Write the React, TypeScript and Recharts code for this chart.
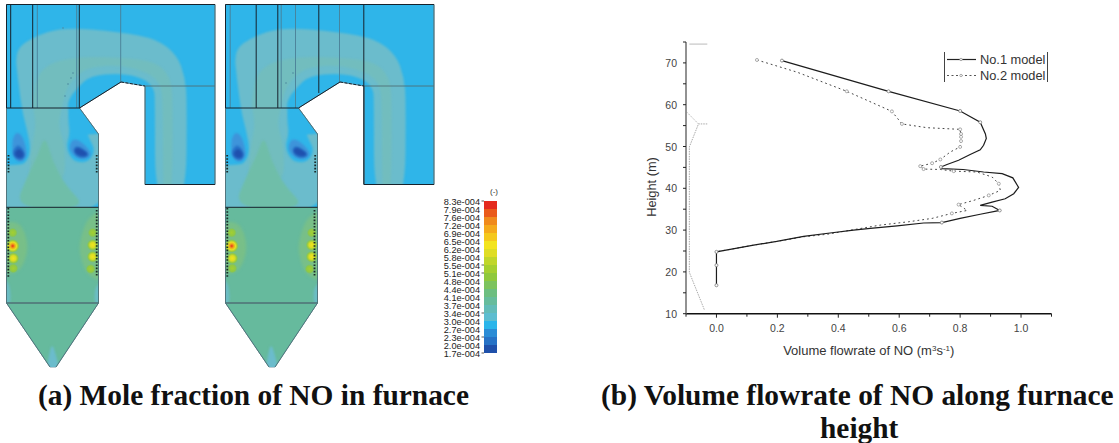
import React from "react";
import { ScatterChart, Scatter, LineChart, Line, XAxis, YAxis, ReferenceArea, Legend } from "recharts";

type P = [number, number];

/* ---------- Furnace contour map, in picture-local furnace units ---------- */
const furnaceOutline: P[] = [[6.5,4.5],[215,4.5],[215,184.5],[145,184.5],[145,86],[121,82],[79.5,108],[98.5,134],[98.5,303],[56,367],[50,367],[6.5,303]];
const tealBand: P[] = [[15,50],[33,37],[63,27],[120,32],[157,39],[177,55],[185,77],[187,100],[186,205],[155,205],[155,100],[154,88],[143,78],[120,73],[90,76],[78,87],[68,100],[68,113],[73,128],[88,134],[110,134],[110,215],[-5,215],[-5,165],[18,165],[26,163],[31,150],[27,130],[22,110],[18,80]];
const midBand: P[] = [[33,100],[38,70],[67,57],[120,57],[157,62],[170,77],[173,97],[172,205],[163,205],[163,100],[160,83],[147,72],[120,65],[90,67],[77,75],[67,87],[62,107],[58,125],[65,145],[65,185],[28,185],[32,145],[36,125],[33,107]];
const lowerBody: P[] = [[6,207],[99,207],[99,304],[56,368],[50,368],[6,304]];
const greenWedge: P[] = [[45,135],[52,160],[65,185],[88,209],[14,209],[28,175],[38,155]];
const cornerTealLeft: P[] = [[4,278],[10,285],[11,304],[4,304]];
const cornerTealRight: P[] = [[101,282],[95,287],[94,304],[101,304]];
const hopperTeal: P[] = [[52,343],[56,355],[60,372],[46,372],[49,355]];
const haloLeft: P[] = [[2,222],[18,222],[25,232],[28,247],[25,262],[17,273],[2,275]];
const haloRight: P[] = [[104,208],[88,218],[82,233],[79,248],[82,262],[87,275],[104,283]];
const cyanRightLobe: P[] = [[70,109],[68,120],[70,133],[66,147],[72,160],[82,163],[90,160],[95,150],[90,140],[87,133],[99,134],[80,108]];
const lobeLeftOuter: P[] = [[12,140],[16,132],[22,135],[26,147],[27,157],[20,163],[13,157]];
const lobeLeftInner: P[] = [[13,150],[18,144],[24,150],[25,157],[20,161],[13,156]];
const lobeLeftCore: P[] = [[14,153],[19,148],[24,153],[23,158],[17,158]];
const lobeRightOuter: P[] = [[69,147],[73,138],[82,142],[92,153],[88,159],[78,159],[71,153]];
const lobeRightInner: P[] = [[73,150],[77,145],[90,154],[85,158],[77,157]];
const lobeRightCore: P[] = [[74,150],[78,147],[89,154],[83,157],[76,154]];

const heatSpots = [
  { x: 12.7, y: 232.7, level: "mild" }, { x: 12.7, y: 246, level: "hot" },
  { x: 13.3, y: 258.3, level: "warm" }, { x: 13.3, y: 268.3, level: "mild" },
  { x: 92.7, y: 232.7, level: "mild" }, { x: 92.7, y: 245, level: "warm" },
  { x: 92.7, y: 256.7, level: "warm" }, { x: 90.7, y: 269, level: "mild" },
];

const commonBlack: P[][] = [
  [[6.5,4.5],[215,4.5]], [[6.5,4.5],[6.5,108]], [[6.5,108],[79.5,108]], [[79.5,108],[121,82]],
  [[6.5,207.3],[98.5,207.3]], [[145,184.5],[215,184.5]],
];
const commonGrey: P[][] = [
  [[145,86],[215,86]], [[79.5,108],[98.5,134]], [[98.5,134],[98.5,303]], [[6.5,108],[6.5,303]],
  [[6.5,303],[98.5,303]], [[215,4.5],[215,184.5]], [[6.5,303],[50,367]], [[98.5,303],[56,367]], [[145,86],[145,184.5]],
];
const dashedRoof: P[] = [[121,82],[145,86]];

const panelOneBlack: P[][] = [[[10.7,4.5],[10.7,108]], [[32.7,4.5],[32.7,108]], [[79.3,4.5],[79.3,108]]];
const panelOneGrey: P[][] = [[[37.3,4.5],[37.3,108]], [[76.7,4.5],[76.7,108]], [[120.7,4.5],[120.7,82]]];
const panelOneSpecks: P[] = [[63,28],[73,73],[71,78],[68,84],[65,96]];
const panelOneBurners: P[][] = [[[8.5,155],[8.5,173]], [[96.7,155],[96.7,173]], [[8.3,208],[8.3,278]], [[96.7,210],[96.7,277]]];

const panelTwoBlack: P[][] = [[[37.2,4.5],[37.2,108]], [[58.8,4.5],[58.8,108]], [[99.8,4.5],[99.8,93]], [[144.8,4.5],[144.8,184.5]]];
const panelTwoGrey: P[][] = [[[11.2,4.5],[11.2,108]], [[62.2,4.5],[62.2,108]], [[76.5,4.5],[76.5,108]], [[120.5,4.5],[120.5,82]]];
const panelTwoSpecks: P[] = [[74,73],[67,83]];
const panelTwoBurners: P[][] = [[[8.2,155],[8.2,173]], [[96.2,155],[96.2,173]], [[8.3,208],[8.3,278]], [[95.5,210],[95.5,277]]];

/* ---------- Colour scale ---------- */
const scaleLabels = ["8.3e-004","7.9e-004","7.6e-004","7.2e-004","6.9e-004","6.5e-004","6.2e-004","5.8e-004","5.5e-004","5.1e-004","4.8e-004","4.4e-004","4.1e-004","3.7e-004","3.4e-004","3.0e-004","2.7e-004","2.3e-004","2.0e-004","1.7e-004"];
const scaleColors = ["#e42a1e","#ea5a1a","#f08a1c","#f5aa1c","#f5c81c","#f3e41e","#dfdd24","#c0d62a","#a5cf30","#8fc83c","#7cc35e","#6cbe80","#66bc9c","#62bcb8","#5cbdd0","#2ab5ea","#2a8cd6","#2672c6","#1f50aa"];
const scaleMarks = [0, 8, 9, 14, 17, 19];

/* ---------- Line chart ---------- */
const modelOne = [
  [0.215,70.55],[0.565,63.2],[0.8,58.5],[0.866,55.8],[0.883,53],[0.886,51.9],[0.877,50.3],[0.866,49.2],[0.833,48.1],[0.795,46.7],[0.757,45.7],[0.737,45.1],[0.74,44.7],[0.81,44.5],[0.877,43.9],[0.938,43.5],[0.973,42.5],[0.992,40.2],[0.976,38.7],[0.948,37.5],[0.905,36.7],[0.866,35.9],[0.905,35.7],[0.93,34.7],[0.866,33.8],[0.8,32.8],[0.74,31.8],[0.68,31.7],[0.593,31],[0.505,30.4],[0.45,30],[0.373,29.3],[0.286,28.5],[0.198,27.3],[0.122,26.4],[0.045,25.4],[0,24.8],[0,21.6],[0,16.8],
].map(([x, y]) => ({ x, y }));
const modelTwo = [
  [0.133,70.7],[0.264,67.8],[0.428,63.2],[0.576,58.4],[0.609,55.4],[0.691,54.5],[0.8,54.1],[0.803,52.3],[0.8,49.9],[0.768,48.7],[0.735,46.9],[0.708,46],[0.669,45.3],[0.68,44.6],[0.735,44.5],[0.779,44.1],[0.855,43.9],[0.905,42.7],[0.927,41.1],[0.932,39.5],[0.894,38.3],[0.844,37.1],[0.795,36.1],[0.823,34.7],[0.773,34],[0.708,32.8],[0.631,32],[0.538,31.2],[0.45,30.1],[0.363,29],[0.286,28.4],[0.198,27.3],[0.122,26.4],[0.045,25.4],[0,24.8],
].map(([x, y]) => ({ x, y }));
const markersOne = [[0.215,70.55],[0.565,63.2],[0.8,58.5],[0.866,55.8],[0.737,45.1],[0.93,34.7],[0.74,31.8],[0,24.8],[0,21.6],[0,16.8]].map(([x, y]) => ({ x, y }));
const markersTwo = [[0.133,70.7],[0.428,63.2],[0.576,58.4],[0.609,55.4],[0.8,54.1],[0.803,53],[0.803,52.3],[0.803,51.3],[0.8,49.9],[0.735,46.9],[0.708,46],[0.669,45.3],[0.68,44.6],[0.779,44.1],[0.927,41.1],[0.894,38.3],[0.795,36.1],[0.773,34]].map(([x, y]) => ({ x, y }));
const ghostTraceLower = [[-0.04,11],[-0.089,19.9],[-0.089,49.9],[-0.059,55.4],[-0.03,55.4]].map(([x, y]) => ({ x, y }));
const ghostTraceUpper = [[-0.059,55.4],[-0.097,58.2]].map(([x, y]) => ({ x, y }));
const ghostTraceTop = [[-0.089,74.5],[-0.03,74.5]].map(([x, y]) => ({ x, y }));

const xTicks = [-0.1,0,0.1,0.2,0.3,0.4,0.5,0.6,0.7,0.8,0.9,1.0,1.1];
const yTicks = [10,15,20,25,30,35,40,45,50,55,60,65,70,75];
const seriesOneName = "No.1 model";
const seriesTwoName = "No.2 model";

/* ---------- Helpers ---------- */
const toPoints = (a: P[]) => a.map(([x, y]) => ({ x, y }));
const straight = (pts: any[]) => pts.map((p, i) => `${i ? "L" : "M"}${p.x} ${p.y}`).join(" ") + " Z";
const rounded = (pts: any[]) => {
  const n = pts.length;
  const mid = (a: any, b: any) => ({ x: (a.x + b.x) / 2, y: (a.y + b.y) / 2 });
  const s = mid(pts[n - 1], pts[0]);
  let d = `M${s.x} ${s.y}`;
  pts.forEach((p, i) => {
    const m = mid(p, pts[(i + 1) % n]);
    d += ` Q${p.x} ${p.y} ${m.x} ${m.y}`;
  });
  return d + " Z";
};
const noDot = () => null;

function region(pts: P[], fill: string, clipId: string, key: string, smooth = true, blur = 0.8) {
  return (
    <Scatter
      key={key}
      data={toPoints(pts)}
      dataKey="y"
      shape={noDot as any}
      isAnimationActive={false}
      line={((p: any) => (
        <g clipPath={`url(#${clipId})`}>
          <path d={smooth ? rounded(p.points) : straight(p.points)} fill={fill} stroke="none" style={blur ? { filter: `blur(${blur}px)` } : undefined} />
        </g>
      )) as any}
    />
  );
}
function stroke(pts: P[], color: string, width: number, key: string, dash?: string) {
  return (
    <Scatter
      key={key}
      data={toPoints(pts)}
      dataKey="y"
      shape={noDot as any}
      isAnimationActive={false}
      line={((p: any) => (
        <path d={p.points.map((q: any, i: number) => `${i ? "L" : "M"}${q.x} ${q.y}`).join(" ")} fill="none" stroke={color} strokeWidth={width} strokeDasharray={dash} />
      )) as any}
    />
  );
}

const HEAT: Record<string, { c: string; r: number }> = {
  hot: { c: "hot", r: 7 },
  warm: { c: "warm", r: 6 },
  mild: { c: "mild", r: 5 },
};

function Furnace({ id, left, black, grey, specks, burners }: { id: string; left: number; black: P[][]; grey: P[][]; specks: P[]; burners: P[][] }) {
  const clip = `clip-${id}`;
  return (
    <div style={{ position: "absolute", left, top: 0 }}>
      <ScatterChart width={218} height={380} margin={{ top: 0, right: 0, bottom: 0, left: 0 }}>
        <XAxis type="number" dataKey="x" domain={[0, 218]} hide allowDataOverflow />
        <YAxis type="number" dataKey="y" domain={[0, 380]} reversed hide allowDataOverflow />
        <Scatter
          data={toPoints(furnaceOutline)}
          dataKey="y"
          shape={noDot as any}
          isAnimationActive={false}
          line={((p: any) => (
            <g>
              <defs>
                <clipPath id={clip}><path d={straight(p.points)} /></clipPath>
                <radialGradient id={`${id}-hot`}>
                  <stop offset="0%" stopColor="#e8301c" /><stop offset="30%" stopColor="#f0a41c" /><stop offset="55%" stopColor="#e6e020" /><stop offset="80%" stopColor="#a0cc34" stopOpacity={0.8} /><stop offset="100%" stopColor="#80c050" stopOpacity={0} />
                </radialGradient>
                <radialGradient id={`${id}-warm`}>
                  <stop offset="0%" stopColor="#f0e41e" /><stop offset="45%" stopColor="#d8dc24" /><stop offset="75%" stopColor="#9ccc34" stopOpacity={0.8} /><stop offset="100%" stopColor="#80c050" stopOpacity={0} />
                </radialGradient>
                <radialGradient id={`${id}-mild`}>
                  <stop offset="0%" stopColor="#a4cf30" /><stop offset="65%" stopColor="#94ca3a" stopOpacity={0.85} /><stop offset="100%" stopColor="#80c050" stopOpacity={0} />
                </radialGradient>
              </defs>
              <path d={straight(p.points)} fill="#2fb5e9" stroke="#5a8090" strokeWidth={0.8} />
            </g>
          )) as any}
        />
        {region(tealBand, "#6bbccc", clip, "teal")}
        {region(midBand, "#72bdbe", clip, "mid", true, 1.2)}
        {region(greenWedge, "#6fbea9", clip, "wedge", true, 1.2)}
        {region(lowerBody, "#66ba9d", clip, "green", false, 0)}
        {region(cornerTealLeft, "#6bbcc4", clip, "cl", true, 1.2)}
        {region(cornerTealRight, "#6bbcc4", clip, "cr", true, 1.2)}
        {region(hopperTeal, "#6bbccc", clip, "ht", true, 1.2)}
        {region(haloLeft, "#78bf88", clip, "hl", true, 1.5)}
        {region(haloRight, "#78bf88", clip, "hr", true, 1.5)}
        {region(cyanRightLobe, "#2fb5e9", clip, "crl")}
        {region(lobeLeftOuter, "#3e94da", clip, "l1")}
        {region(lobeLeftInner, "#2672c8", clip, "l2")}
        {region(lobeLeftCore, "#1f50ae", clip, "l3")}
        {region(lobeRightOuter, "#3e94da", clip, "r1")}
        {region(lobeRightInner, "#2672c8", clip, "r2")}
        {region(lobeRightCore, "#1f50ae", clip, "r3")}
        <Scatter
          data={heatSpots}
          dataKey="y"
          isAnimationActive={false}
          shape={((p: any) => {
            const h = HEAT[p.payload.level];
            return <circle cx={p.cx} cy={p.cy} r={h.r} fill={`url(#${id}-${h.c})`} />;
          }) as any}
        />
        <Scatter
          data={toPoints(specks)}
          dataKey="y"
          isAnimationActive={false}
          shape={((p: any) => <circle cx={p.cx} cy={p.cy} r={0.8} fill="#4d8aa0" />) as any}
        />
        {grey.map((l, i) => stroke(l, "#4a7f96", 0.9, `pg${i}`))}
        {commonGrey.map((l, i) => stroke(l, "#4f6f76", i === 4 ? 1.6 : 0.9, `cg${i}`))}
        {black.map((l, i) => stroke(l, "#16222c", 1, `pb${i}`))}
        {commonBlack.map((l, i) => stroke(l, "#16222c", 1, `cb${i}`))}
        {stroke(dashedRoof, "#16222c", 1, "roof", "3 1.5")}
        {burners.map((l, i) => stroke(l, "#1a2a28", 1.8, `bu${i}`, "1.6 1.6"))}
      </ScatterChart>
    </div>
  );
}

function ColourScale() {
  return (
    <div style={{ position: "absolute", left: 425, top: 190 }}>
      <LineChart width={80} height={172} margin={{ top: 11, right: 8, bottom: 9, left: 0 }} data={scaleLabels.map((_, i) => ({ i, x: i % 2 }))}>
        <XAxis type="number" dataKey="x" domain={[0, 1]} hide allowDataOverflow />
        <YAxis
          type="number"
          dataKey="i"
          domain={[0, 19]}
          reversed
          width={59}
          interval={0}
          ticks={scaleLabels.map((_, i) => i)}
          axisLine={false}
          tickLine={false}
          tickSize={0}
          tickMargin={0}
          tick={((p: any) => (
            <g>
              {scaleMarks.includes(p.payload.value) && <line x1={p.x - 2.5} x2={p.x} y1={p.y} y2={p.y} stroke="#333" strokeWidth={0.8} />}
              <text x={p.x - 4} y={p.y + 3.5} textAnchor="end" fontFamily="Liberation Sans" fontSize={9.2} fill="#222">{scaleLabels[p.payload.value]}</text>
            </g>
          )) as any}
        />
        <Line dataKey="i" stroke="none" dot={false} isAnimationActive={false} legendType="none" />
        {scaleColors.map((c, i) => (
          <ReferenceArea key={c} x1={0} x2={1} y1={i} y2={i + 1} fill={c} fillOpacity={1} stroke="none" ifOverflow="extendDomain" />
        ))}
      </LineChart>
      <div style={{ position: "absolute", left: 65, top: -3, font: "8px 'Liberation Sans'", color: "#333" }}>(-)</div>
    </div>
  );
}

const axisFont = "Liberation Sans";

function FlowChart() {
  return (
    <div style={{ position: "absolute", left: 630, top: 30 }}>
      <LineChart width={440} height={350} margin={{ top: 12, right: 18.5, bottom: 0, left: 0 }}>
        <XAxis
          type="number"
          dataKey="x"
          domain={[-0.1, 1.1]}
          ticks={xTicks}
          interval={0}
          height={66.3}
          axisLine={{ stroke: "#111", strokeWidth: 1.6 }}
          tickLine={false}
          tickSize={0}
          tickMargin={0}
          tick={((p: any) => {
            const major = Math.round(p.payload.value * 10) % 2 === 0 && p.payload.value >= 0;
            return (
              <g>
                <line x1={p.x} x2={p.x} y1={p.y} y2={p.y + (major ? 4 : 3)} stroke="#222" strokeWidth={1} />
                {major && <text x={p.x} y={p.y + 18} textAnchor="middle" fontFamily={axisFont} fontSize={10.5} fill="#444">{p.payload.value.toFixed(1)}</text>}
              </g>
            );
          }) as any}
          label={{
            content: (p: any) => (
              <text x={p.viewBox.x + p.viewBox.width / 2} y={325} textAnchor="middle" fontFamily={axisFont} fontSize={13} fill="#333">
                Volume flowrate of NO (m<tspan dy={-4} fontSize={8}>3</tspan><tspan dy={4}>s</tspan><tspan dy={-4} fontSize={8}>-1</tspan><tspan dy={4}>)</tspan>
              </text>
            ),
          } as any}
        />
        <YAxis
          type="number"
          dataKey="y"
          domain={[10, 75]}
          ticks={yTicks}
          interval={0}
          width={56}
          axisLine={{ stroke: "#777", strokeWidth: 1.6 }}
          tickLine={false}
          tickSize={0}
          tickMargin={0}
          tick={((p: any) => {
            const major = p.payload.value % 10 === 0;
            return (
              <g>
                <line x1={p.x - 3} x2={p.x} y1={p.y} y2={p.y} stroke="#222" strokeWidth={1} />
                {major && <text x={p.x - 9} y={p.y + 4} textAnchor="end" fontFamily={axisFont} fontSize={10.5} fill="#444">{p.payload.value}</text>}
              </g>
            );
          }) as any}
          label={{
            content: () => (
              <text x={26} y={157} transform="rotate(-90 26 157)" textAnchor="middle" fontFamily={axisFont} fontSize={12.8} fill="#333">Height (m)</text>
            ),
          } as any}
        />
        <Legend
          layout="horizontal"
          align="center"
          verticalAlign="middle"
          wrapperStyle={{ left: 314, top: 22, width: 104, height: 30 }}
          content={(() => (
            <div style={{ width: 102, height: 30, borderLeft: "1px solid #444", borderRight: "1px solid #444", position: "relative", fontFamily: axisFont, fontSize: 12.8, color: "#333" }}>
              {[seriesOneName, seriesTwoName].map((name, i) => (
                <div key={name} style={{ position: "absolute", left: 0, top: i * 15.7, height: 15, lineHeight: "15px", whiteSpace: "nowrap" }}>
                  <svg width={32} height={15} style={{ verticalAlign: "top" }}>
                    <line x1={2} x2={31} y1={7.5} y2={7.5} stroke={i ? "#555" : "#222"} strokeWidth={i ? 1 : 1.2} strokeDasharray={i ? "2 2.5" : undefined} />
                    <circle cx={16} cy={7.5} r={1.2} fill="#fff" stroke="#888" strokeWidth={0.7} />
                  </svg>
                  <span style={{ position: "absolute", left: 35, top: 0 }}>{name}</span>
                </div>
              ))}
            </div>
          )) as any}
        />
        <Line data={ghostTraceLower} dataKey="y" stroke="#aaa" strokeWidth={1} strokeDasharray="1.5 1" dot={false} isAnimationActive={false} legendType="none" />
        <Line data={ghostTraceUpper} dataKey="y" stroke="#bbb" strokeWidth={1} strokeDasharray="1.5 1" dot={false} isAnimationActive={false} legendType="none" />
        <Line data={ghostTraceTop} dataKey="y" stroke="#bbb" strokeWidth={1} dot={false} isAnimationActive={false} legendType="none" />
        <Line data={modelTwo} dataKey="y" name={seriesTwoName} stroke="#444" strokeWidth={1} strokeDasharray="1.8 3" dot={false} isAnimationActive={false} />
        <Line data={modelOne} dataKey="y" name={seriesOneName} stroke="#1c1c1c" strokeWidth={1.2} dot={false} isAnimationActive={false} />
        <Line data={markersTwo} dataKey="y" stroke="none" dot={{ r: 1.5, fill: "#fff", stroke: "#888", strokeWidth: 0.7 }} isAnimationActive={false} legendType="none" />
        <Line data={markersOne} dataKey="y" stroke="none" dot={{ r: 1.5, fill: "#fff", stroke: "#777", strokeWidth: 0.8 }} isAnimationActive={false} legendType="none" />
      </LineChart>
    </div>
  );
}

const captionStyle: React.CSSProperties = {
  position: "absolute",
  fontFamily: "'Liberation Serif'",
  fontWeight: 700,
  fontSize: 29.4,
  lineHeight: "32px",
  color: "#111",
  whiteSpace: "nowrap",
};

export default function App() {
  return (
    <div style={{ position: "absolute", left: 0, top: 0, width: 1119, height: 443, background: "#fff", overflow: "hidden" }}>
      <Furnace id="a" left={0} black={panelOneBlack} grey={panelOneGrey} specks={panelOneSpecks} burners={panelOneBurners} />
      <Furnace id="b" left={218.5} black={panelTwoBlack} grey={panelTwoGrey} specks={panelTwoSpecks} burners={panelTwoBurners} />
      <ColourScale />
      <FlowChart />
      <div style={{ ...captionStyle, left: 38, top: 379 }}>(a) Mole fraction of NO in furnace</div>
      <div style={{ ...captionStyle, left: 601, top: 379 }}>(b) Volume flowrate of NO along furnace</div>
      <div style={{ ...captionStyle, left: 820, top: 412 }}>height</div>
    </div>
  );
}
